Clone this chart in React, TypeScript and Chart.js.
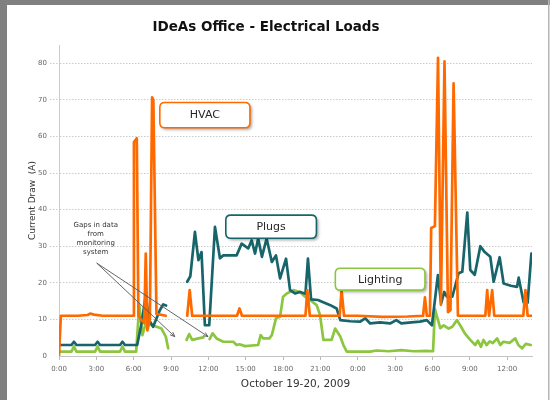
import { useEffect, useRef } from "react";
import { Chart, registerables } from "chart.js";

Chart.register(...registerables);

// ---------- data (hours since 0:00 on October 19, amps) ----------
const hvacHours = [
  0, 0.15, 1.5, 2.3, 2.5, 2.8, 3.5, 5.95, 6.02, 6.25, 6.38, 6.6, 6.85, 6.97, 7.1, 7.3, 7.48, 7.58, 7.83, 8.58,
  9.4,
  10.3, 10.5, 10.7, 14.3, 14.5, 14.7, 19.8, 19.95, 20.15, 22.55, 22.7, 22.9, 24, 26, 28, 29.25, 29.4, 29.55,
  29.8, 29.9, 30.2, 30.45, 30.68, 30.97, 31.25, 31.45, 31.7, 32.05, 34.25, 34.4, 34.55, 34.8, 34.97, 35.15,
  37.3, 37.47, 37.65, 38,
];
const hvacAmps = [
  0, 11, 11, 11.2, 11.6, 11.3, 11, 11, 58.5, 59.5, 11, 10, 9, 28, 7, 10, 70.7, 70, 11.5, 11,
  null,
  11, 18, 11, 11, 13, 11, 11, 18, 11, 11, 18, 11, 11, 10.7, 10.8, 11, 16, 11,
  11, 35, 35.5, 81.5, 14, 80.5, 12, 12.5, 74.5, 11, 11, 18, 11, 18, 11, 11,
  11, 18, 11, 11,
];

const plugsHours = [
  0, 1.0, 1.2, 1.4, 2.9, 3.1, 3.3, 4.9, 5.1, 5.3, 6.28, 6.63, 6.97, 7.24, 7.56, 8.1, 8.37, 8.6,
  9.4,
  10.3, 10.55, 10.92, 11.2, 11.45, 11.72, 12.07, 12.53, 12.93, 13.2, 14.27, 14.67, 15.2, 15.48, 15.75, 16.0,
  16.3, 16.68, 17.1, 17.43, 17.76, 18.24, 18.56, 18.96, 19.36, 19.8, 20.0, 20.25, 20.8, 21.8, 22.3, 22.6,
  23.4, 24.2, 24.6, 25.0, 25.8, 26.6, 27.1, 27.5, 28.3, 29.0, 29.55, 29.96, 30.44, 30.7, 30.95, 31.17,
  31.6, 32.1, 32.4, 32.8, 33.04, 33.4, 33.85, 34.2, 34.65, 34.92, 35.4, 35.72, 36.3, 36.8, 36.93, 37.33,
  37.65, 37.95,
];
const plugsAmps = [
  3, 3, 3.9, 3, 3, 3.9, 3, 3, 3.9, 3, 3, 8.9, 16.6, 9.8, 8, 12.5, 14.1, 13.8,
  null,
  20.3, 21.8, 33.9, 26.2, 28.4, 8.4, 8.4, 35.3, 26.7, 27.5, 27.5, 30.7, 29.4, 31.6, 28, 32.1,
  27.1, 32.1, 25.7, 27.5, 21.2, 26.6, 18, 17.1, 17.5, 17, 26.6, 15.5, 15.3, 13.9, 13, 9.8,
  9.5, 9.4, 10.3, 8.9, 9.2, 8.9, 9.8, 8.9, 9.2, 9.4, 9.8, 8.4, 22.1, 14.4, 17.5, 16.2,
  16.2, 22.6, 23, 39.2, 23.5, 22.2, 30, 28.4, 27.1, 20.3, 27, 19.8, 19.2, 18.9, 21.4, 14.6,
  14.6, 28,
];

const lightingHours = [
  0, 1.0, 1.2, 1.4, 2.9, 3.1, 3.3, 4.9, 5.1, 5.3, 6.2, 6.45, 6.7, 6.97, 7.4, 7.83, 8.23, 8.58, 8.77,
  9.5,
  10.25, 10.46, 10.7, 11.2, 11.6,
  11.85,
  12.1, 12.34, 12.66, 13.2, 14.0, 14.27, 14.5, 14.94, 16.0, 16.2, 16.4, 16.9, 17.1, 17.43, 17.76, 18.0,
  18.3, 18.83, 19.36, 19.77, 20.17, 20.7, 20.97, 21.24, 21.9, 22.18, 22.6, 22.85, 23.12, 25, 25.5, 26.5,
  27.5, 28.5, 29.5, 30.05, 30.2, 30.63, 30.9, 31.3, 31.6, 31.97, 32.3, 32.6, 33.04, 33.44, 33.65, 33.9,
  34.1, 34.35, 34.6, 34.85, 35.2, 35.45, 35.7, 36.2, 36.66, 36.9, 37.2, 37.5, 37.9,
];
const lightingAmps = [
  1.2, 1.2, 2.6, 1.2, 1.2, 2.6, 1.2, 1.2, 2.6, 1.2, 1.2, 14, 5.7, 9, 8.5, 8, 7.5, 5.3, 2.1,
  null,
  4.4, 6, 4.4, 4.8, 5.1,
  null,
  4.6, 6.2, 4.8, 3.9, 3.9, 3, 3.2, 2.7, 3, 5.7, 4.8, 4.8, 5.7, 10.3, 10.7, 16.2,
  17.1, 18, 17.5, 16.2, 15.3, 13.9, 11.2, 4.4, 4.4, 7.5, 5.3, 3, 1.2, 1.2, 1.5, 1.3,
  1.6, 1.3, 1.4, 1.3, 12.8, 7.6, 8.4, 7.5, 8, 9.8, 8, 6.2, 4.4, 3, 4.2, 2.5,
  4.4, 3, 4, 3.5, 4.8, 3, 3.9, 3.6, 4.8, 3, 2.1, 3.3, 3,
];

const seriesNames = ["HVAC", "Plugs", "Lighting"];
const seriesColors = ["#ff6a00", "#17656a", "#8cc63f"];

const xMin = 0;
const xMax = 38;
const xStep = 3;
const yMin = 0;
const yMax = 85;
const yStep = 10;

const chartTitle = "IDeAs Office - Electrical Loads";
const xAxisTitle = "October 19-20, 2009";
const yAxisTitle = "Current Draw  (A)";

// callout boxes, in data units (hours, amps)
const calloutLabels = ["HVAC", "Plugs", "Lighting"];
const calloutX0 = [8.1, 13.4, 22.2];
const calloutX1 = [15.34, 20.68, 29.4];
const calloutYTop = [69.3, 38.5, 24.0];
const calloutYBottom = [62.4, 32.2, 18.0];

const gapNoteLines = ["Gaps in data", "from", "monitoring", "system"];
const gapNoteAt = [2.95, 35.8];
const gapArrowFrom = [3.03, 25.4];
const gapArrowToX = [9.3, 11.97];
const gapArrowToY = [5.3, 5.3];

function toPoints(xs: number[], ys: (number | null)[]) {
  return xs.map((x, i) => ({ x, y: ys[i] }));
}

const framePlugin = {
  id: "frame",
  beforeDraw(chart: any) {
    const { ctx, width, height } = chart;
    ctx.save();
    ctx.fillStyle = "#ffffff";
    ctx.fillRect(0, 0, width, height);
    ctx.fillStyle = "#808080";
    ctx.fillRect(0, 0, 7, height);
    ctx.fillRect(0, 0, 550, 5);
    ctx.fillStyle = "#b5b5b5";
    ctx.fillRect(548, 0, 1.5, height);
    ctx.restore();
  },
};

function roundRect(ctx: CanvasRenderingContext2D, x: number, y: number, w: number, h: number, r: number) {
  ctx.beginPath();
  ctx.moveTo(x + r, y);
  ctx.lineTo(x + w - r, y);
  ctx.quadraticCurveTo(x + w, y, x + w, y + r);
  ctx.lineTo(x + w, y + h - r);
  ctx.quadraticCurveTo(x + w, y + h, x + w - r, y + h);
  ctx.lineTo(x + r, y + h);
  ctx.quadraticCurveTo(x, y + h, x, y + h - r);
  ctx.lineTo(x, y + r);
  ctx.quadraticCurveTo(x, y, x + r, y);
  ctx.closePath();
}

const annotationPlugin = {
  id: "annotations",
  afterDatasetsDraw(chart: any) {
    const { ctx } = chart;
    const xs = chart.scales.x;
    const ys = chart.scales.y;
    ctx.save();
    calloutLabels.forEach((label, i) => {
      const x0 = xs.getPixelForValue(calloutX0[i]);
      const x1 = xs.getPixelForValue(calloutX1[i]);
      const y0 = ys.getPixelForValue(calloutYTop[i]);
      const y1 = ys.getPixelForValue(calloutYBottom[i]);
      ctx.save();
      ctx.shadowColor = "rgba(0,0,0,0.35)";
      ctx.shadowBlur = 3;
      ctx.shadowOffsetX = 2;
      ctx.shadowOffsetY = 2;
      roundRect(ctx, x0, y0, x1 - x0, y1 - y0, 5);
      ctx.fillStyle = "#ffffff";
      ctx.fill();
      ctx.restore();
      roundRect(ctx, x0, y0, x1 - x0, y1 - y0, 5);
      ctx.lineWidth = 1.6;
      ctx.strokeStyle = seriesColors[seriesNames.indexOf(label)];
      ctx.stroke();
      ctx.fillStyle = "#262626";
      ctx.font = "11px 'DejaVu Sans'";
      ctx.textAlign = "center";
      ctx.textBaseline = "middle";
      ctx.fillText(label, (x0 + x1) / 2, (y0 + y1) / 2 + 0.5);
    });
    ctx.fillStyle = "#333333";
    ctx.font = "7px 'DejaVu Sans'";
    ctx.textAlign = "center";
    ctx.textBaseline = "middle";
    const nx = xs.getPixelForValue(gapNoteAt[0]);
    const ny = ys.getPixelForValue(gapNoteAt[1]);
    gapNoteLines.forEach((line, i) => ctx.fillText(line, nx, ny + i * 9.2));
    const fx = xs.getPixelForValue(gapArrowFrom[0]);
    const fy = ys.getPixelForValue(gapArrowFrom[1]);
    ctx.strokeStyle = "#555555";
    ctx.lineWidth = 0.9;
    gapArrowToX.forEach((tx0, i) => {
      const tx = xs.getPixelForValue(tx0);
      const ty = ys.getPixelForValue(gapArrowToY[i]);
      ctx.beginPath();
      ctx.moveTo(fx, fy);
      ctx.lineTo(tx, ty);
      ctx.stroke();
      const a = Math.atan2(ty - fy, tx - fx);
      const L = 5;
      ctx.beginPath();
      ctx.moveTo(tx, ty);
      ctx.lineTo(tx - L * Math.cos(a - 0.4), ty - L * Math.sin(a - 0.4));
      ctx.moveTo(tx, ty);
      ctx.lineTo(tx - L * Math.cos(a + 0.4), ty - L * Math.sin(a + 0.4));
      ctx.stroke();
    });
    ctx.restore();
  },
};

export default function App() {
  const ref = useRef<HTMLCanvasElement | null>(null);

  useEffect(() => {
    document.body.style.margin = "0";
    const canvas = ref.current;
    if (!canvas) return;
    Chart.defaults.font.family = "'DejaVu Sans'";
    const seriesData = [
      toPoints(hvacHours, hvacAmps),
      toPoints(plugsHours, plugsAmps),
      toPoints(lightingHours, lightingAmps),
    ];
    const chart = new Chart(canvas, {
      type: "line",
      data: {
        datasets: seriesNames.map((name, i) => ({
          label: name,
          data: seriesData[i] as any,
          borderColor: seriesColors[i],
          backgroundColor: seriesColors[i],
          borderWidth: 2.7,
          pointRadius: 0,
          tension: 0,
          spanGaps: false,
          borderJoinStyle: "round" as const,
          borderCapStyle: "round" as const,
        })),
      },
      options: {
        animation: false,
        responsive: false,
        layout: { padding: { left: 0, right: 20, top: 0, bottom: 0 } },
        plugins: {
          legend: { display: false },
          tooltip: { enabled: false },
          title: {
            display: true,
            text: chartTitle,
            color: "#111111",
            font: { family: "'DejaVu Sans'", size: 13.5, weight: "bold" },
            padding: { top: 18.9, bottom: 9.9 },
          },
        },
        scales: {
          x: {
            type: "linear",
            min: xMin,
            max: xMax,
            afterFit: (s: any) => {
              s.height = 44;
            },
            ticks: {
              stepSize: xStep,
              includeBounds: false,
              color: "#666666",
              font: { size: 7 },
              padding: 5,
              maxRotation: 0,
              autoSkip: false,
              callback: (v: any) => `${Number(v) % 24}:00`,
            },
            grid: {
              display: true,
              drawOnChartArea: false,
              drawTicks: true,
              tickLength: 4,
              tickColor: "#bbbbbb",
              color: "#bbbbbb",
            },
            border: { display: true, color: "#c4c4c4", width: 1 },
            title: {
              display: true,
              text: xAxisTitle,
              color: "#333333",
              font: { size: 10.5 },
              padding: { top: 0, bottom: 9.7 },
            },
          },
          y: {
            type: "linear",
            min: yMin,
            max: yMax,
            afterFit: (s: any) => {
              s.width = 59;
            },
            ticks: {
              stepSize: yStep,
              includeBounds: false,
              color: "#666666",
              font: { size: 7 },
              padding: 3,
            },
            grid: {
              display: true,
              drawTicks: true,
              tickLength: 9,
              color: (c: any) => (c.tick && c.tick.value === 0 ? "rgba(0,0,0,0)" : "#cccccc"),
              tickColor: (c: any) => (c.tick && c.tick.value === 0 ? "rgba(0,0,0,0)" : "#cccccc"),
              tickBorderDash: [1.5, 1.5],
              lineWidth: 1,
            },
            border: { display: true, color: "#cccccc", width: 1, dash: [1.5, 1.5] },
            title: {
              display: true,
              text: yAxisTitle,
              color: "#333333",
              font: { size: 9 },
              padding: { top: 27.5, bottom: 0 },
            },
          },
        },
      },
      plugins: [framePlugin, annotationPlugin],
    });
    return () => chart.destroy();
  }, []);

  return <canvas ref={ref} width={552} height={400} style={{ display: "block" }} />;
}
